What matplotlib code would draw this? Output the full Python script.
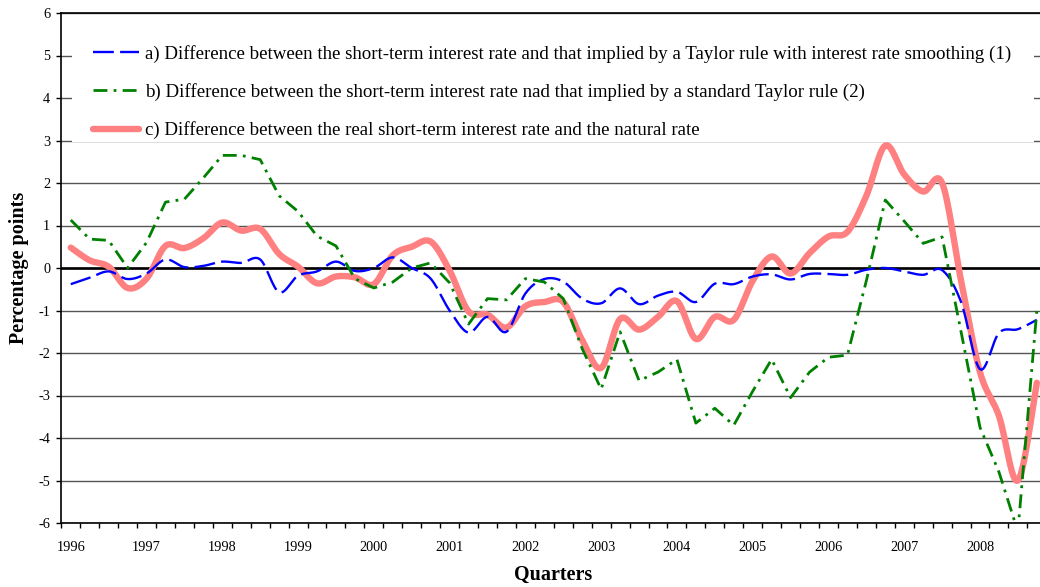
import numpy as np
import matplotlib
matplotlib.use('Agg')
import matplotlib.pyplot as plt
from matplotlib.patches import Rectangle
from matplotlib.ticker import FixedLocator, NullFormatter

plt.rcParams['font.family'] = ['Liberation Serif', 'DejaVu Serif']
plt.rcParams['lines.scale_dashes'] = False
plt.rcParams['axes.unicode_minus'] = False

# ---------------- data (quarterly, 1996Q1 .. 2008Q4) ----------------
years = [str(y) for y in range(1996, 2009)]
quarters = np.arange(52)

series_a = [-0.38, -0.23, -0.08, -0.26, -0.13, 0.20, 0.02, 0.05,
            0.15, 0.12, 0.20, -0.57, -0.18, -0.08, 0.15, -0.07,
            0.00, 0.25, 0.00, -0.25, -1.00, -1.52, -1.15, -1.50,
            -0.60, -0.26, -0.32, -0.72, -0.83, -0.48, -0.85, -0.65,
            -0.56, -0.80, -0.37, -0.38, -0.20, -0.15, -0.27, -0.14,
            -0.14, -0.16, -0.04, 0.00, -0.08, -0.16, -0.05, -0.80,
            -2.38, -1.53, -1.44, -1.22]

series_b = [1.13, 0.68, 0.65, 0.00, 0.60, 1.55, 1.62, 2.12,
            2.65, 2.65, 2.55, 1.70, 1.33, 0.75, 0.52, -0.25,
            -0.47, -0.33, 0.00, 0.12, -0.35, -1.32, -0.72, -0.75,
            -0.25, -0.33, -0.72, -1.90, -2.85, -1.50, -2.65, -2.45,
            -2.15, -3.65, -3.30, -3.70, -2.90, -2.15, -3.05, -2.45,
            -2.10, -2.05, -0.30, 1.60, 1.10, 0.58, 0.73, -1.50,
            -3.75, -4.80, -6.20, -1.00]

series_c = [0.48, 0.18, 0.03, -0.47, -0.25, 0.52, 0.47, 0.70,
            1.07, 0.88, 0.92, 0.33, 0.03, -0.36, -0.20, -0.22,
            -0.38, 0.30, 0.50, 0.62, -0.06, -1.02, -1.10, -1.40,
            -0.90, -0.80, -0.80, -1.70, -2.35, -1.20, -1.45, -1.15,
            -0.78, -1.67, -1.15, -1.22, -0.30, 0.27, -0.13, 0.35,
            0.74, 0.85, 1.70, 2.88, 2.20, 1.80, 2.00, -0.30,
            -2.45, -3.48, -5.00, -2.70]

label_a = ("a) Difference between the short-term interest rate and that implied "
           "by a Taylor rule with interest rate smoothing (1)")
label_b = ("b) Difference between the short-term interest rate nad that implied "
           "by a standard Taylor rule (2)")
label_c = "c) Difference between the real short-term interest rate and the natural rate"


def excel_smooth(x, y, n=16):
    """Excel-style smoothed line (Catmull-Rom Bezier through the points)."""
    P = np.column_stack([np.asarray(x, float), np.asarray(y, float)])
    out = [P[0]]
    t = np.linspace(0, 1, n + 1)[1:, None]
    for i in range(len(P) - 1):
        p0 = P[i - 1] if i > 0 else P[i]
        p1, p2 = P[i], P[i + 1]
        p3 = P[i + 2] if i + 2 < len(P) else P[i + 1]
        c1 = p1 + (p2 - p0) / 6.0
        c2 = p2 - (p3 - p1) / 6.0
        seg = ((1 - t) ** 3) * p1 + 3 * ((1 - t) ** 2) * t * c1 \
            + 3 * (1 - t) * t ** 2 * c2 + t ** 3 * p2
        out.extend(seg)
    out = np.array(out)
    return out[:, 0], out[:, 1]


W, H = 1040, 587
fig = plt.figure(figsize=(W / 100, H / 100), dpi=100)
# plot area (extends slightly past the right edge, as in the cropped original)
ax = fig.add_axes([61.3 / W, 64 / H, 985 / W, 510 / H])

ax.set_xlim(-0.5, 51.5)
ax.set_ylim(-6, 6)

# grid
ax.set_axisbelow(True)
ax.set_yticks(np.arange(-6, 7, 1))
ax.yaxis.grid(True, color='#555555', lw=1.0)
ax.axhline(0, color='black', lw=1.9, zorder=1.5)

# white legend background hiding the upper gridlines
ax.add_patch(Rectangle(((72 - 61.3) / 985, (523 - 142) / 510),
                       (1034 - 72) / 985, (142 - 22) / 510,
                       transform=ax.transAxes, facecolor='white',
                       edgecolor='none', zorder=1.2))

xa, ya = excel_smooth(quarters, series_a)
xc, yc = excel_smooth(quarters, series_c)

ax.plot(xa, ya, color='#0000FF', lw=1.7, dashes=(15, 4.5), zorder=3,
        label=label_a)
ax.plot(quarters, series_b, color='#008000', lw=2.0,
        dashes=(10, 4.5, 2, 4.5), zorder=3, label=label_b)
ax.plot(xc, yc, color='#FF8080', lw=4.6, zorder=2.5, solid_capstyle='round',
        label=label_c)

# x axis: labels at first quarter of each year, ticks between quarters
ax.xaxis.set_major_locator(FixedLocator(quarters[::4]))
ax.set_xticklabels(years)
ax.xaxis.set_minor_locator(FixedLocator(np.arange(-0.5, 52, 1)))
ax.xaxis.set_minor_formatter(NullFormatter())
ax.tick_params(axis='x', which='major', length=0, pad=13, labelsize=10.3)
ax.tick_params(axis='x', which='minor', length=3.6, width=1.0, direction='out')
ax.tick_params(axis='y', which='major', length=3.6, width=1.0, direction='out',
               pad=4.5, labelsize=10.3)

for side in ['left', 'bottom', 'top', 'right']:
    ax.spines[side].set_linewidth(1.2)
    ax.spines[side].set_color('black')

ax.set_ylabel('Percentage points', fontsize=14.5, fontweight='bold', va='center')
ax.yaxis.set_label_coords((19 - 61.3) / 985, 0.5)
ax.set_xlabel('Quarters', fontsize=14.5, fontweight='bold', va='center')
ax.xaxis.set_label_coords((553 - 61.3) / 985, -(575 - 523) / 510)

ax.legend(loc='upper left', bbox_to_anchor=((93 - 61.3) / 985, (523 - 45) / 510),
          frameon=False, fontsize=13.6, borderpad=0, borderaxespad=0,
          handlelength=2.45, handletextpad=0.32, labelspacing=1.07)

fig.savefig('out.png', dpi=100)
